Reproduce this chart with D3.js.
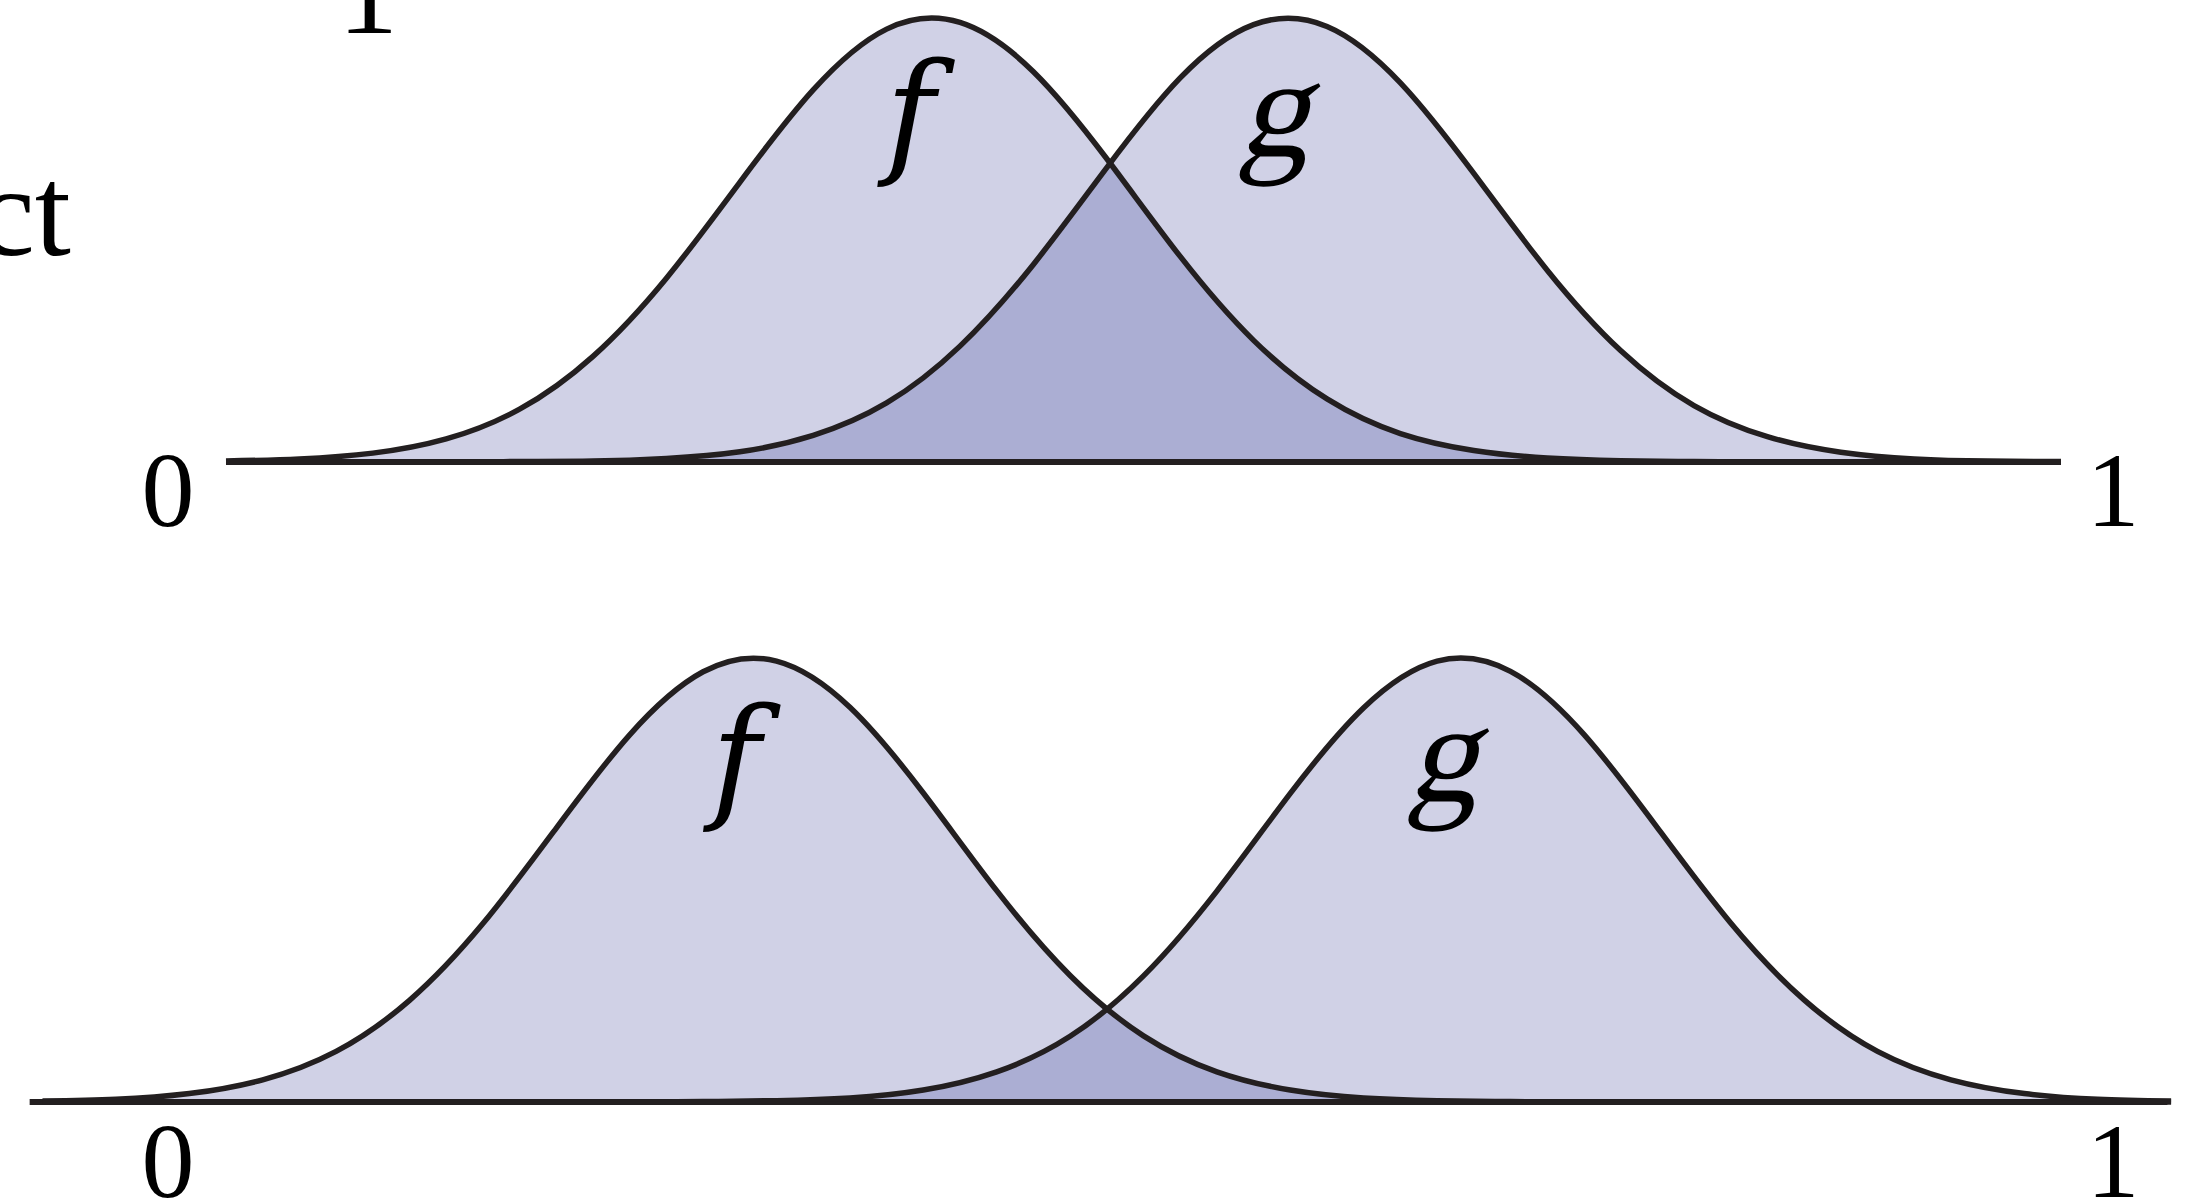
<!DOCTYPE html>
<html>
<head>
<meta charset="utf-8">
<script src="https://cdn.jsdelivr.net/npm/d3@7"></script>
<style>
  body { margin: 0; background: #fff; }
  svg { display: block; }
  text { font-family: "Liberation Serif", "DejaVu Serif", serif; fill: #000; }
</style>
</head>
<body>
<svg id="overlap_chart" width="2188" height="1204"></svg>
<script>
const CURVE_NAMES = ["f", "g"];
const TICK_VALUES = [0, 1];
const TICK_LABELS = ["0", "1"];

// top panel: heavy overlap
const TOP_X = [0, 0.04, 0.08, 0.12, 0.16, 0.20, 0.24, 0.28, 0.32, 0.36, 0.40, 0.44, 0.48,
    0.52, 0.56, 0.60, 0.64, 0.68, 0.72, 0.76, 0.80, 0.84, 0.88, 0.92, 0.96, 1.00];
const TOP_F = [0.002, 0.007, 0.02, 0.052, 0.119, 0.238, 0.414, 0.63, 0.838, 0.975, 0.99, 0.879, 0.683,
    0.463, 0.274, 0.142, 0.064, 0.026, 0.009, 0.003, 0.001, 0, 0, 0, 0, 0];
const TOP_G = [0, 0, 0, 0, 0.001, 0.002, 0.008, 0.023, 0.06, 0.133, 0.261, 0.445, 0.663,
    0.865, 0.985, 0.981, 0.854, 0.65, 0.432, 0.251, 0.127, 0.057, 0.022, 0.007, 0.002, 0.001];

// bottom panel: small overlap
const BOTTOM_X = [-0.10, -0.06, -0.02, 0.02, 0.06, 0.10, 0.14, 0.18, 0.22, 0.26, 0.30, 0.34, 0.38, 0.42, 0.46,
    0.50, 0.54, 0.58, 0.62, 0.66, 0.70, 0.74, 0.78, 0.82, 0.86, 0.90, 0.94, 0.98, 1.02, 1.06];
const BOTTOM_F = [0.002, 0.006, 0.019, 0.05, 0.114, 0.229, 0.402, 0.617, 0.827, 0.969, 0.993, 0.889, 0.696, 0.476, 0.285,
    0.149, 0.068, 0.027, 0.009, 0.003, 0.001, 0, 0, 0, 0, 0, 0, 0, 0, 0];
const BOTTOM_G = [0, 0, 0, 0, 0, 0, 0, 0, 0, 0.001, 0.003, 0.009, 0.027, 0.068, 0.148,
    0.284, 0.475, 0.695, 0.888, 0.993, 0.97, 0.828, 0.618, 0.403, 0.23, 0.114, 0.05, 0.019, 0.006, 0.002];

const TOP_AXIS_EXTENT = [0, 1];
const BOTTOM_AXIS_EXTENT = [-0.107, 1.058];

const LIGHT_FILL = "#d0d1e6";
const OVERLAP_FILL = "#abaed3";
const INK = "#231f20";

// f has a real italic with a descender, g gets a slanted two-storey roman
const NAME_FONTS = {
    "f": {"family": "'DejaVu Serif'", "style": "italic", "size": 134, "skew": 0, "dx": -2, "dy": 3},
    "g": {"family": "'Liberation Serif'", "style": "normal", "size": 142, "skew": -14, "dx": -6, "dy": 0}
};

var chart_svg = d3.select("svg#overlap_chart");

var x_scale = d3.scaleLinear().domain([0, 1]).range([226, 2061]);

function build_panel(id, xs, f_vals, g_vals, axis_extent, layout) {
    var y_scale = d3.scaleLinear().domain([0, 1]).range([layout.baseline, layout.baseline - 444]);
    var rows = xs.map((x, i) => ({"x": x, "f": f_vals[i], "g": g_vals[i]}));

    var curve = d3.curveNatural;
    var area_of = key => d3.area()
        .x(d => x_scale(d.x))
        .y0(y_scale(0))
        .y1(d => y_scale(d[key]))
        .curve(curve);
    var line_of = key => d3.line()
        .x(d => x_scale(d.x))
        .y(d => y_scale(d[key]))
        .curve(curve);

    var g = chart_svg.append("g").attr("class", "panel_" + id);

    chart_svg.select("defs").append("clipPath")
        .attr("id", "clip_f_" + id)
        .append("path")
        .attr("d", area_of("f")(rows));

    CURVE_NAMES.forEach(function(key) {
        g.append("path")
            .attr("d", area_of(key)(rows))
            .attr("fill", LIGHT_FILL);
    });

    // overlap of the two densities
    g.append("path")
        .attr("d", area_of("g")(rows))
        .attr("fill", OVERLAP_FILL)
        .attr("clip-path", "url(#clip_f_" + id + ")");

    g.append("path")
        .attr("d", d3.line()([[x_scale(axis_extent[0]), y_scale(0)], [x_scale(axis_extent[1]), y_scale(0)]]))
        .attr("stroke", INK)
        .attr("stroke-width", 6)
        .attr("fill", "none");

    CURVE_NAMES.forEach(function(key) {
        g.append("path")
            .attr("d", line_of(key)(rows))
            .attr("fill", "none")
            .attr("stroke", INK)
            .attr("stroke-width", 5.5)
            .attr("stroke-linejoin", "round");
    });

    TICK_VALUES.forEach(function(v, i) {
        g.append("text")
            .attr("x", x_scale(v) + layout.tick_dx[i])
            .attr("y", layout.tick_y)
            .attr("text-anchor", "middle")
            .style("font-size", "106px")
            .text(TICK_LABELS[i]);
    });

    CURVE_NAMES.forEach(function(key, i) {
        var font = NAME_FONTS[key];
        g.append("text")
            .attr("transform", "translate(" + (x_scale(layout.name_x[i]) + font.dx) + "," + (layout.name_y + font.dy) + ") skewX(" + font.skew + ")")
            .attr("text-anchor", "middle")
            .style("font-family", font.family)
            .style("font-style", font.style)
            .style("font-size", font.size + "px")
            .text(key);
    });
}

chart_svg.append("defs");

// leftovers of slide text cut by the frame
chart_svg.append("text")
    .attr("x", 368).attr("y", 33)
    .attr("text-anchor", "middle")
    .style("font-size", "120px")
    .text("1");
chart_svg.append("text")
    .attr("x", 71).attr("y", 255)
    .attr("text-anchor", "end")
    .style("font-size", "130px")
    .text("ct");

build_panel("top", TOP_X, TOP_F, TOP_G, TOP_AXIS_EXTENT,
    {"baseline": 462, "tick_y": 526, "tick_dx": [-58, 52], "name_x": [0.374, 0.574], "name_y": 156});
build_panel("bottom", BOTTOM_X, BOTTOM_F, BOTTOM_G, BOTTOM_AXIS_EXTENT,
    {"baseline": 1102, "tick_y": 1197, "tick_dx": [-58, 52], "name_x": [0.279, 0.666], "name_y": 801});
</script>
</body>
</html>
